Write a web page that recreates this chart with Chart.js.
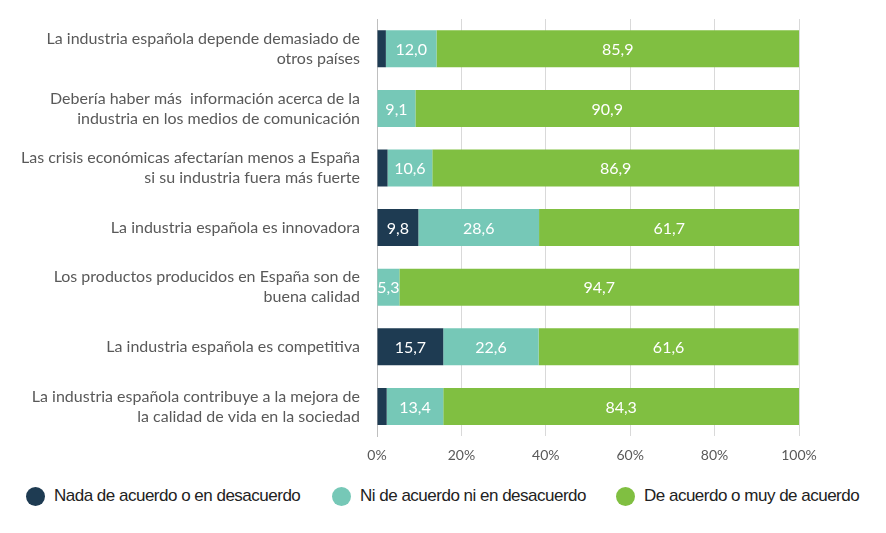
<!DOCTYPE html>
<html>
<head>
<meta charset="utf-8">
<script src="https://cdn.jsdelivr.net/npm/chart.js@4/dist/chart.umd.min.js"></script>
<style>
  body { margin: 0; background: #fff; }
  #wrap { position: relative; width: 886px; height: 479px; }
  #legend { position: absolute; top: 484px; left: 0; width: 886px; height: 24px;
            font-family: "Liberation Sans", sans-serif; font-size: 17px; letter-spacing: -0.5px; color: #222; }
  .item { position: absolute; top: 0; display: flex; align-items: center; height: 24px; }
  .dot { width: 19px; height: 19px; border-radius: 50%; margin-right: 9px; }
</style>
</head>
<body>
<div id="wrap"><canvas id="chart"></canvas></div>
<div id="legend"></div>
<script>
//
// DATEN
//
const categories = [
  ["La industria española depende demasiado de", "otros países"],
  ["Debería haber más  información acerca de la", "industria en los medios de comunicación"],
  ["Las crisis económicas afectarían menos a España", "si su industria fuera más fuerte"],
  ["La industria española es innovadora"],
  ["Los productos producidos en España son de", "buena calidad"],
  ["La industria española es competitiva"],
  ["La industria española contribuye a la mejora de", "la calidad de vida en la sociedad"]
];
const seriesNames = ["Nada de acuerdo o en desacuerdo", "Ni de acuerdo ni en desacuerdo", "De acuerdo o muy de acuerdo"];
const nada = [2.1, 0, 2.5, 9.8, 0, 15.7, 2.3];
const ni = [12.0, 9.1, 10.6, 28.6, 5.3, 22.6, 13.4];
const deAcuerdo = [85.9, 90.9, 86.9, 61.7, 94.7, 61.6, 84.3];
const xTicks = [0, 20, 40, 60, 80, 100];
const colors = ["#1e3b52", "#76c8b7", "#80bf41"];

// Werte in die Balken schreiben
const barLabels = {
  id: "barLabels",
  afterDatasetsDraw(chart) {
    const ctx = chart.ctx;
    ctx.save();
    ctx.fillStyle = "#fff";
    ctx.font = "16px Lato";
    ctx.textAlign = "center";
    ctx.textBaseline = "middle";
    chart.data.datasets.forEach((ds, i) => {
      chart.getDatasetMeta(i).data.forEach((bar, j) => {
        const v = ds.data[j];
        if (v < 5) return;
        const x = (bar.x + bar.base) / 2;
        ctx.fillText(v.toFixed(1).replace(".", ","), x, bar.y + 1);
      });
    });
    ctx.restore();
  }
};

const chart = new Chart(document.getElementById("chart"), {
  type: "bar",
  data: {
    labels: categories,
    datasets: [nada, ni, deAcuerdo].map((d, i) => ({
      label: seriesNames[i],
      data: d,
      backgroundColor: colors[i],
      categoryPercentage: 0.62,
      barPercentage: 1
    }))
  },
  options: {
    indexAxis: "y",
    responsive: true,
    maintainAspectRatio: false,
    animation: false,
    layout: { padding: { top: 19, right: 87, bottom: 4, left: 0 } },
    plugins: { legend: { display: false }, tooltip: { enabled: false } },
    scales: {
      x: {
        stacked: true,
        min: 0,
        max: 100,
        afterBuildTicks: s => { s.ticks = xTicks.map(v => ({ value: v })); },
        ticks: { color: "#595959", font: { family: "Lato", size: 14 }, padding: 11,
                 callback: v => v + "%" },
        grid: { color: "#d9d9d9", drawTicks: false },
        border: { display: false }
      },
      y: {
        stacked: true,
        afterFit: s => { s.width = 377; s.paddingTop = 0; s.paddingBottom = 0; },
        ticks: { color: "#595959", font: { family: "Lato", size: 16, lineHeight: 1.25 }, padding: 9 },
        grid: { display: false },
        border: { color: "#bfbfbf" }
      }
    }
  },
  plugins: [barLabels]
});

// Legende
const legendX = [26, 332, 616];
const legend = document.getElementById("legend");
seriesNames.forEach((name, i) => {
  const item = document.createElement("div");
  item.className = "item";
  item.style.left = legendX[i] + "px";
  item.innerHTML = '<span class="dot" style="background:' + colors[i] + '"></span>' + name;
  legend.appendChild(item);
});
</script>
</body>
</html>
